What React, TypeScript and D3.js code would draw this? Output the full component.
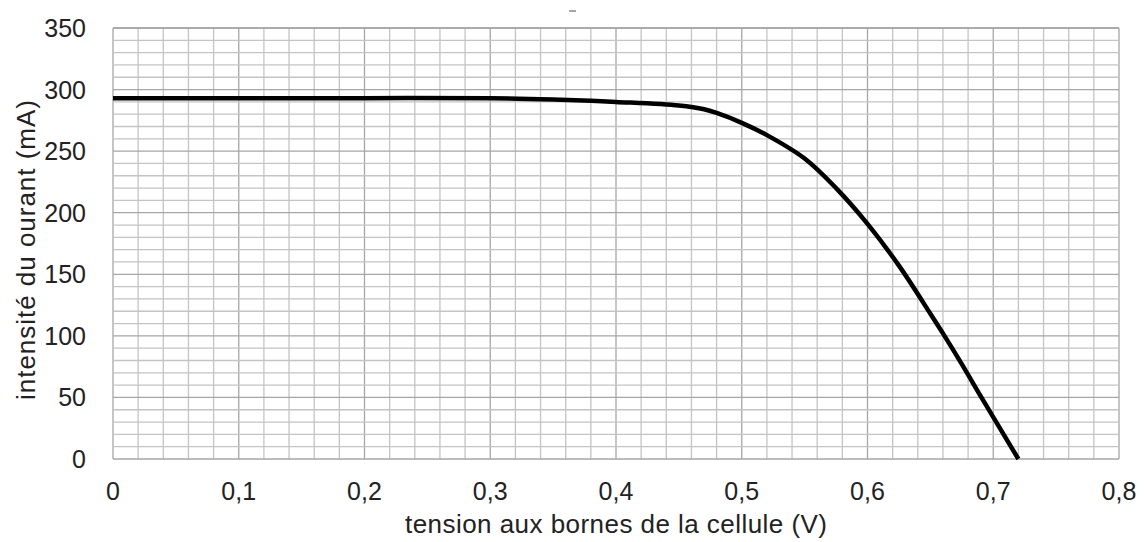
import * as d3 from 'd3';
import {useEffect, useRef} from 'react';

const voltage = [0, 0.1, 0.2, 0.3, 0.35, 0.38, 0.4, 0.45, 0.47, 0.48, 0.5, 0.52, 0.55, 0.575, 0.6, 0.625, 0.65, 0.66, 0.675, 0.69, 0.7, 0.72];
const current = [293, 293, 293, 293, 292, 291, 290, 287, 284, 281, 273, 263, 244, 220, 191, 157, 118, 102, 77, 51, 34, 0];

const xTicks = [0, 0.1, 0.2, 0.3, 0.4, 0.5, 0.6, 0.7, 0.8];
const yTicks = [0, 50, 100, 150, 200, 250, 300, 350];

export default function App() {
    const ref = useRef(null);
    const width = 1144;
    const height = 542;
    const margins = {top: 28, right: 25, bottom: 83, left: 113};

    useEffect(() => {
        const svg = d3.select(ref.current);
        svg.selectAll('*').remove();

        const x = d3.scaleLinear().domain([0, 0.8]).range([margins.left, width - margins.right]);
        const y = d3.scaleLinear().domain([0, 350]).range([height - margins.bottom, margins.top]);

        const minorX = d3.range(0, 41).map((i) => i * 0.02);
        const minorY = d3.range(0, 36).map((i) => i * 10);

        const grid = svg.append('g');
        grid.selectAll('.vx')
            .data(minorX)
            .join('line')
            .attr('x1', (d) => x(d))
            .attr('x2', (d) => x(d))
            .attr('y1', y(0))
            .attr('y2', y(350))
            .attr('stroke', (_, i) => (i % 5 === 0 ? '#a6a6a6' : '#c4c4c4'))
            .attr('stroke-width', 1.3);
        grid.selectAll('.hy')
            .data(minorY)
            .join('line')
            .attr('y1', (d) => y(d))
            .attr('y2', (d) => y(d))
            .attr('x1', x(0))
            .attr('x2', x(0.8))
            .attr('stroke', (_, i) => (i % 5 === 0 ? '#a6a6a6' : '#c4c4c4'))
            .attr('stroke-width', 1.3);
        grid.append('line')
            .attr('x1', x(0)).attr('x2', x(0.8))
            .attr('y1', y(350)).attr('y2', y(350))
            .attr('stroke', '#a6a6a6').attr('stroke-width', 1.3);

        const font = '"Liberation Sans", Arial, sans-serif';

        svg.append('g')
            .selectAll('text')
            .data(xTicks)
            .join('text')
            .attr('x', (d) => x(d))
            .attr('y', 500)
            .attr('text-anchor', 'middle')
            .attr('font-family', font)
            .attr('font-size', 25)
            .attr('fill', '#222')
            .text((d) => d3.format('.1~f')(d).replace('.', ','));

        svg.append('g')
            .selectAll('text')
            .data(yTicks)
            .join('text')
            .attr('x', 86)
            .attr('y', (d) => y(d) + 9)
            .attr('text-anchor', 'end')
            .attr('font-family', font)
            .attr('font-size', 25)
            .attr('fill', '#222')
            .text((d) => d);

        svg.append('text')
            .attr('x', (x(0) + x(0.8)) / 2)
            .attr('y', 533)
            .attr('text-anchor', 'middle')
            .attr('font-family', font)
            .attr('font-size', 26)
            .attr('textLength', 422)
            .attr('fill', '#222')
            .text('tension aux bornes de la cellule (V)');

        svg.append('text')
            .attr('transform', `translate(35, 250) rotate(-90)`)
            .attr('text-anchor', 'middle')
            .attr('font-family', font)
            .attr('font-size', 26)
            .attr('textLength', 300)
            .attr('fill', '#222')
            .text('intensité du ourant (mA)');

        svg.append('line')
            .attr('x1', 569).attr('x2', 576)
            .attr('y1', 11).attr('y2', 11)
            .attr('stroke', '#888').attr('stroke-width', 1.5);

        const line = d3
            .line<number>()
            .x((d) => x(d))
            .y((_, i) => y(current[i]))
            .curve(d3.curveCatmullRom.alpha(0.5));

        svg.append('path')
            .attr('d', line(voltage))
            .attr('fill', 'none')
            .attr('stroke', '#000')
            .attr('stroke-width', 4.5)
            .attr('stroke-linejoin', 'round');
    }, []);

    return (
        <svg
            ref={ref}
            width={width}
            height={height}
            style={{position: 'absolute', left: 0, top: 0, background: '#fff'}}
        ></svg>
    );
}
